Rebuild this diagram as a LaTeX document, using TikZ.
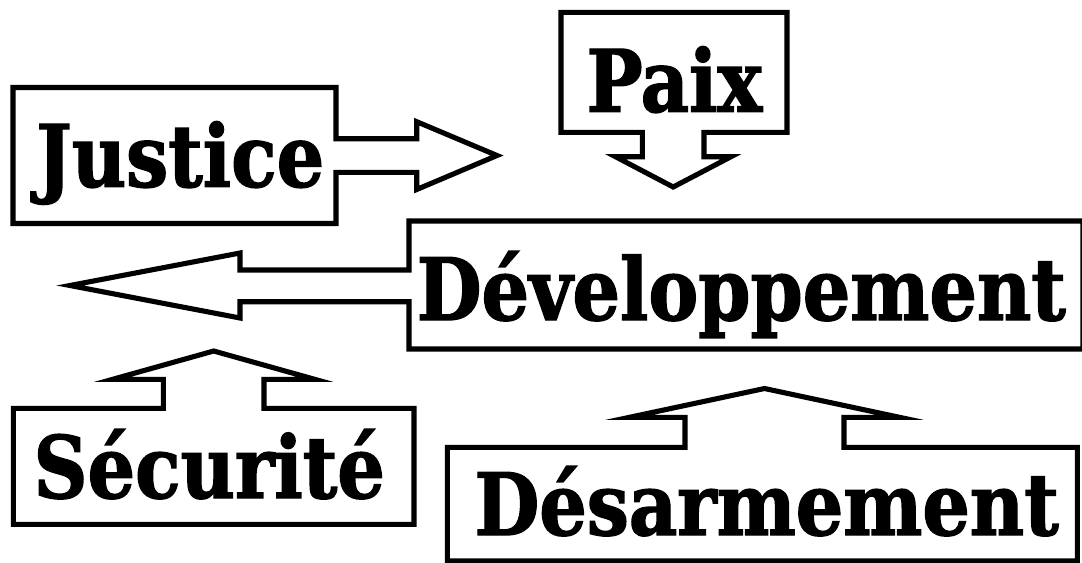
\documentclass[tikz,border=0pt]{standalone}
\usepackage{fontspec}
\usepackage{tikz}
\newfontfamily\wordfont[FakeStretch=0.965, FakeBold=1.6]{DejaVu Serif Condensed Bold}

\tikzset{
	word/.style={inner sep=0pt, anchor=base, font=\wordfont\fontsize{49}{50}\selectfont},
	callout/.style={draw=black, line width=2.9pt, miter limit=25}
}

\begin{document}
\begin{tikzpicture}[x=0.02cm, y=-0.02cm]
	\useasboundingbox (0,0) rectangle (1082,562);
	
	\draw[callout] (13,87.5) -- (336,87.5) -- (336,138.7) -- (416.7,138.7) -- (416.7,121.7) -- (497,155.5) -- (416.7,189.5) -- (416.7,172.3) -- (336,172.3) -- (336,223.5) -- (13,223.5) -- cycle;
	\draw[callout] (561,12.3) -- (787,12.3) -- (787,132.3) -- (704,132.3) -- (704,156.7) -- (731,156.7) -- (673.2,187) -- (615.5,156.7) -- (642.3,156.7) -- (642.3,132.3) -- (561,132.3) -- cycle;
	\draw[callout] (409,221) -- (1083,221) -- (1083,349) -- (409,349) -- (409,301.7) -- (240,301.7) -- (240,318) -- (70,285.5) -- (240,253) -- (240,270) -- (409,270) -- cycle;
	\draw[callout] (13.3,408.3) -- (163.3,408.3) -- (163.3,379.3) -- (112.7,379.3) -- (213.7,351) -- (314.7,379.3) -- (264,379.3) -- (264,408.3) -- (414,408.3) -- (414,524.3) -- (13.3,524.3) -- cycle;
	\draw[callout] (447.3,447.3) -- (685,447.3) -- (685,417.3) -- (629.5,417.3) -- (764.5,388.5) -- (899.5,417.3) -- (844,417.3) -- (844,447.3) -- (1077.3,447.3) -- (1077.3,561) -- (447.3,561) -- cycle;
	
	\node[word] (justice) at (180.3,186.7) {Justice};
	\node[word] (paix) at (674.2,111.7) {Paix};
	\node[word] (developpement) at (741.3,320) {Développement};
	\node[word] (securite) at (209.2,498) {Sécurité};
	\node[word] (desarmement) at (766.7,535) {Désarmement};
	
\end{tikzpicture}
\end{document}
